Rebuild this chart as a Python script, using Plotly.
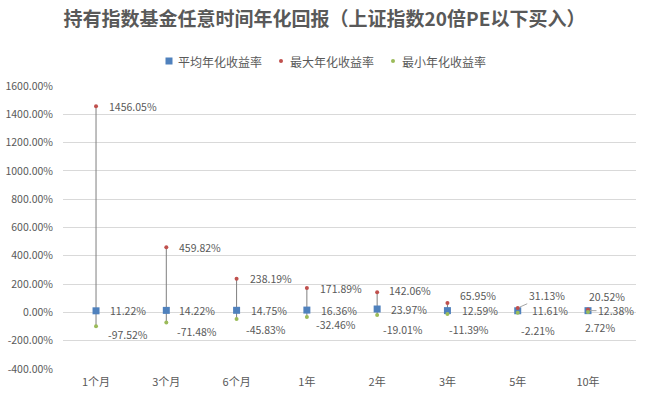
import plotly.graph_objects as go

categories = ["1个月", "3个月", "6个月", "1年", "2年", "3年", "5年", "10年"]
avg_values = [11.22, 14.22, 14.75, 16.36, 23.97, 12.59, 11.61, 12.38]
max_values = [1456.05, 459.82, 238.19, 171.89, 142.06, 65.95, 31.13, 20.52]
min_values = [-97.52, -71.48, -45.83, -32.46, -19.01, -11.39, -2.21, 2.72]
y_ticks = list(range(-400, 1601, 200))

series_names = ["平均年化收益率", "最大年化收益率", "最小年化收益率"]
title_text = "持有指数基金任意时间年化回报（上证指数20倍PE以下买入）"

FONT = "Noto Sans CJK SC, Noto Sans, sans-serif"
TXT = "#595959"
BLUE, RED, GREEN = "#4F81BD", "#C0504D", "#9BBB59"
colors = [BLUE, RED, GREEN]

W, H = 649, 394
ML, MR, MT, MB = 63, 13, 86, 25
plot_w = W - ML - MR
plot_h = H - MT - MB

def px_x(p):
    return (p - ML) / plot_w

def px_y(p):
    return 1 - (p - MT) / plot_h

fig = go.Figure()

# high-low lines
hx, hy = [], []
for c, lo, hi in zip(categories, min_values, max_values):
    hx += [c, c, None]
    hy += [lo, hi, None]
fig.add_trace(go.Scatter(x=hx, y=hy, mode="lines", line=dict(color="#7F7F7F", width=1),
                         showlegend=False, hoverinfo="skip"))

fig.add_trace(go.Scatter(x=categories, y=avg_values, mode="markers", name=series_names[0],
                         marker=dict(symbol="square", size=7, color=BLUE), showlegend=False))
fig.add_trace(go.Scatter(x=categories, y=max_values, mode="markers", name=series_names[1],
                         marker=dict(symbol="circle", size=4, color=RED), showlegend=False))
fig.add_trace(go.Scatter(x=categories, y=min_values, mode="markers", name=series_names[2],
                         marker=dict(symbol="circle", size=4, color=GREEN), showlegend=False))

LBL = dict(size=10.5, color=TXT, family=FONT)

# label offsets (pixels): (xshift, yshift); ("L", ax, ay) => leader-line label
max_off = [(11, 0), (11, 0), (11, 0), (11, 0), (10, 2), (11, 8), ("L", 29, -13), (-1, 13)]
avg_off = [(12, 0), (11, 0), (12, 0), (12, 0), (12, 0), (13, 0), (12, 0), ("L", 28, 0)]
min_off = [(10, -8), (9, -9), (7, -11), (7, -8), (4, -14), (0, -15), (1, -18), (-5, -15)]

annots = []
def add_labels(values, offs):
    for c, v, o in zip(categories, values, offs):
        txt = f"{v:.2f}%"
        if o[0] == "L":
            annots.append(dict(x=c, y=v, text=txt, showarrow=True, ax=o[1], ay=o[2],
                               arrowhead=0, arrowwidth=1, arrowcolor="#A6A6A6", standoff=2,
                               font=LBL))
        else:
            annots.append(dict(x=c, y=v, text=txt, showarrow=False, xanchor="left", yanchor="middle",
                               xshift=o[0], yshift=o[1], font=LBL))

add_labels(max_values, max_off)
add_labels(avg_values, avg_off)
add_labels(min_values, min_off)

# manual legend (positions in pixels)
legend_sym_x = [169, 281, 393]
legend_y = 61
shapes = []
for i, (name, col, sx) in enumerate(zip(series_names, colors, legend_sym_x)):
    if i == 0:
        shapes.append(dict(type="rect", xref="paper", yref="paper",
                           x0=px_x(sx - 3.5), x1=px_x(sx + 3.5),
                           y0=px_y(legend_y + 3.5), y1=px_y(legend_y - 3.5),
                           fillcolor=col, line=dict(width=0)))
    else:
        shapes.append(dict(type="circle", xref="paper", yref="paper",
                           x0=px_x(sx - 2), x1=px_x(sx + 2),
                           y0=px_y(legend_y + 2), y1=px_y(legend_y - 2),
                           fillcolor=col, line=dict(width=0)))
    annots.append(dict(xref="paper", yref="paper", x=px_x(sx + 7), y=px_y(legend_y),
                       xanchor="left", yanchor="middle", text=name, showarrow=False,
                       font=dict(size=12, color=TXT, family=FONT)))

fig.update_layout(
    width=W, height=H,
    margin=dict(l=ML, r=MR, t=MT, b=MB, autoexpand=False),
    paper_bgcolor="white", plot_bgcolor="white",
    font=dict(family=FONT, size=11, color=TXT),
    title=dict(text=f"<b>{title_text}</b>", x=0.5, xanchor="center", yref="container",
               y=1 - 19 / H, yanchor="middle", font=dict(size=19, color=TXT, family=FONT)),
    annotations=annots,
    shapes=shapes,
    showlegend=False,
)
fig.update_xaxes(type="category", categoryorder="array", categoryarray=categories,
                 showgrid=False, showline=False, ticks="", ticklabelstandoff=5,
                 tickfont=dict(size=11, color=TXT))
fig.update_yaxes(range=[-400, 1600], tickvals=y_ticks,
                 ticktext=[f"{t:.2f}%" for t in y_ticks],
                 showgrid=True, gridcolor="#D9D9D9", gridwidth=1,
                 zeroline=True, zerolinecolor="#D9D9D9", zerolinewidth=1,
                 showline=False, ticks="", ticklabelstandoff=9,
                 tickfont=dict(size=10.5, color=TXT))

fig.write_html("out.html", config={"displayModeBar": False},
               post_script="document.body.style.margin='0';")
